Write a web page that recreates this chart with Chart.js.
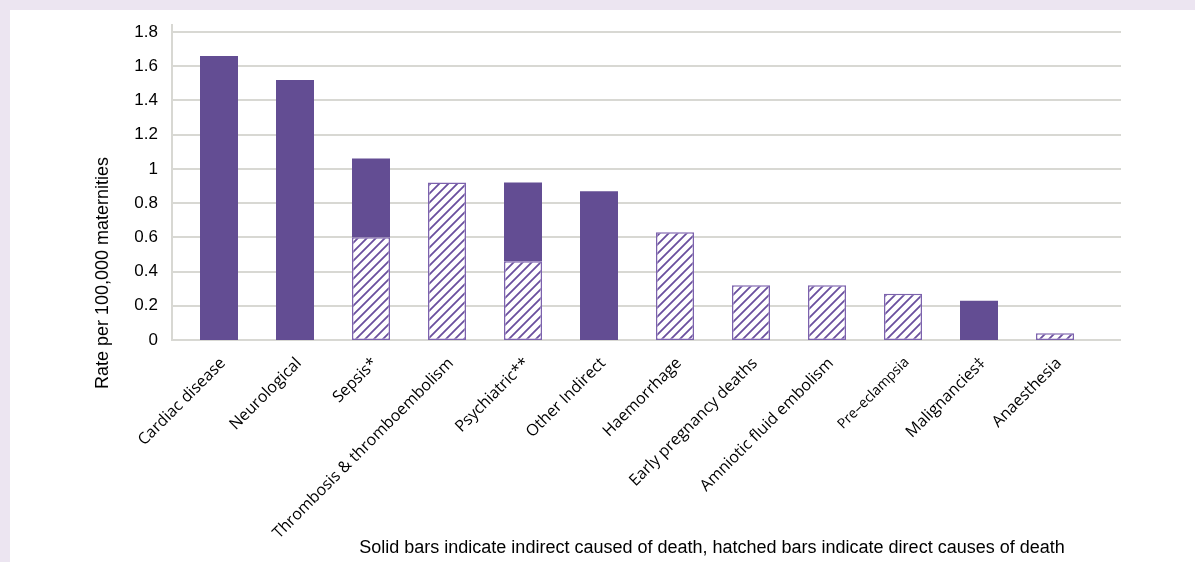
<!DOCTYPE html>
<html>
<head>
<meta charset="utf-8">
<script src="https://cdn.jsdelivr.net/npm/chart.js@4/dist/chart.umd.min.js"></script>
<style>
    html, body { margin: 0; padding: 0; background: #ece5f1; }
    #panel { position: absolute; left: 10px; top: 10px; width: 1185px; height: 552px; background: #fff; }
</style>
</head>
<body>
<div id="panel"><canvas id="causesChart"></canvas></div>
<script>
const categories = [
    'Cardiac disease', 'Neurological', 'Sepsis*', 'Thrombosis & thromboembolism',
    'Psychiatric**', 'Other Indirect', 'Haemorrhage', 'Early pregnancy deaths',
    'Amniotic fluid embolism', 'Pre\u2013eclampsia', 'Malignancies\u2021', 'Anaesthesia'
];
// hatched part (direct causes)
const directRates = [null, null, 0.60, 0.92, 0.46, null, 0.63, 0.32, 0.32, 0.27, null, 0.04];
// solid part (indirect causes)
const indirectRates = [1.66, 1.52, 0.46, null, 0.46, 0.87, null, null, null, null, 0.23, null];
const yTickValues = [0, 0.2, 0.4, 0.6, 0.8, 1, 1.2, 1.4, 1.6, 1.8];

const yTitle = 'Rate per 100,000 maternities';
const footNote = 'Solid bars indicate indirect caused of death, hatched bars indicate direct causes of death';

const solidColor = '#634d93';

function makeHatch() {
    const size = 9;
    const tile = document.createElement('canvas');
    tile.width = size;
    tile.height = size;
    const t = tile.getContext('2d');
    t.fillStyle = '#fff';
    t.fillRect(0, 0, size, size);
    t.strokeStyle = '#6a4f9e';
    t.lineWidth = 1.8;
    t.beginPath();
    t.moveTo(0, size); t.lineTo(size, 0);
    t.moveTo(-size / 2, size / 2); t.lineTo(size / 2, -size / 2);
    t.moveTo(size / 2, size * 1.5); t.lineTo(size * 1.5, size / 2);
    t.stroke();
    return t.createPattern(tile, 'repeat');
}

const framePlugin = {
    id: 'frame',
    beforeDatasetsDraw(chart) {
        const { ctx, chartArea, scales: { y } } = chart;
        const left = chartArea.left - 9;
        const right = chartArea.right + 28;
        ctx.save();
        ctx.strokeStyle = '#d8d8d3';
        ctx.lineWidth = 2;
        y.ticks.forEach(tick => {
            const py = Math.round(y.getPixelForValue(tick.value));
            ctx.beginPath();
            ctx.moveTo(left, py);
            ctx.lineTo(right, py);
            ctx.stroke();
        });
        ctx.beginPath();
        ctx.moveTo(left, chartArea.top - 8);
        ctx.lineTo(left, Math.round(y.getPixelForValue(0)) + 1);
        ctx.stroke();
        ctx.restore();
    },
    afterDraw(chart) {
        const { ctx } = chart;
        ctx.save();
        ctx.fillStyle = '#000';
        ctx.font = '18px "Liberation Sans", Arial, sans-serif';
        ctx.textAlign = 'center';
        ctx.textBaseline = 'middle';
        ctx.translate(93, 263);
        ctx.rotate(-Math.PI / 2);
        ctx.fillText(yTitle, 0, 0);
        ctx.restore();

        ctx.save();
        ctx.fillStyle = '#000';
        ctx.font = '18px "Liberation Sans", Arial, sans-serif';
        ctx.textAlign = 'center';
        ctx.textBaseline = 'middle';
        ctx.fillText(footNote, 702, 538);
        ctx.restore();
    }
};

const ctx = document.getElementById('causesChart').getContext('2d');

new Chart(ctx, {
    type: 'bar',
    data: {
        labels: categories,
        datasets: [{
            label: 'Direct',
            data: directRates,
            backgroundColor: makeHatch(),
            borderColor: '#7c62ad',
            borderWidth: 1.5,
            borderSkipped: false,
            barPercentage: 0.5,
            categoryPercentage: 1
        }, {
            label: 'Indirect',
            data: indirectRates,
            backgroundColor: solidColor,
            borderWidth: 0,
            barPercentage: 0.5,
            categoryPercentage: 1
        }]
    },
    options: {
        responsive: true,
        maintainAspectRatio: false,
        animation: false,
        layout: {
            padding: { top: 22, right: 102, bottom: 0, left: 0 }
        },
        scales: {
            x: {
                stacked: true,
                grid: { display: false, drawTicks: false },
                border: { display: false },
                ticks: {
                    autoSkip: false,
                    minRotation: 45,
                    maxRotation: 45,
                    padding: 14,
                    labelOffset: 4,
                    color: '#000',
                    font: function (context) {
                        return {
                            family: '"Open Sans", sans-serif',
                            size: context.index === 9 ? 14 : 16
                        };
                    }
                },
                afterFit: function (scale) {
                    scale.height = 222;
                }
            },
            y: {
                stacked: true,
                min: 0,
                max: 1.8,
                grid: { display: false, drawTicks: false },
                border: { display: false },
                ticks: {
                    padding: 23,
                    color: '#000',
                    font: { family: '"Liberation Sans", Arial, sans-serif', size: 17 },
                    callback: function (value) {
                        return String(value);
                    }
                },
                afterBuildTicks: function (scale) {
                    scale.ticks = yTickValues.map(v => ({ value: v }));
                },
                afterFit: function (scale) {
                    scale.width = 171;
                    scale.paddingTop = 10;
                    scale.paddingBottom = 10;
                }
            }
        },
        plugins: {
            legend: { display: false },
            tooltip: { enabled: false }
        }
    },
    plugins: [framePlugin]
});
</script>
</body>
</html>
